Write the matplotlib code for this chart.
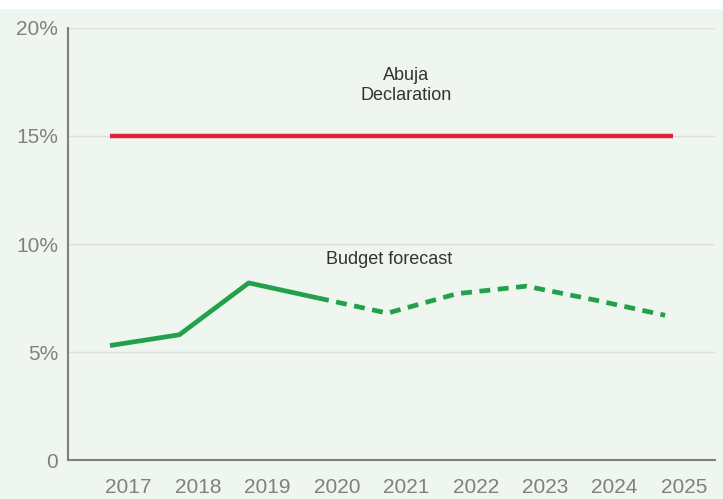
import matplotlib.pyplot as plt
from matplotlib.patches import Rectangle

years = ["2017", "2018", "2019", "2020", "2021", "2022", "2023", "2024", "2025"]
actual = [5.3, 5.8, 8.2, 7.5]
forecast = [7.5, 6.8, 7.7, 8.05, 7.4, 6.7]
abuja = [15, 15]

plt.rcParams['font.family'] = ['Liberation Sans', 'DejaVu Sans']
bg = "#eef6ef"

fig = plt.figure(figsize=(7.23, 4.99), dpi=100, facecolor=bg)
fig.patches.append(Rectangle((0, 0.984), 1, 0.016, transform=fig.transFigure,
                             color="white", zorder=0))
ax = fig.add_axes([0.094, 0.078, 0.895, 0.866])
ax.set_facecolor(bg)

x_act = list(range(len(actual)))
x_fc = list(range(len(actual) - 1, len(years)))
ax.plot([0, len(years) - 1 + 0.12], abuja, color="#e0243c", lw=3.2, solid_capstyle="butt")
ax.plot(x_act, actual, color="#22a04b", lw=3.4, solid_capstyle="butt")
ax.plot(x_fc, forecast, color="#22a04b", lw=3.4, dashes=(2.3, 1.6), dash_capstyle="butt")

ax.text(4.27, 17.34, "Abuja\nDeclaration", ha="center", va="center", fontsize=13,
        color="#333333", linespacing=1.2)
ax.text(4.02, 9.26, "Budget forecast", ha="center", va="center",
        fontsize=13, color="#333333")

ax.set_xlim(-0.605, 8.72)
ax.set_ylim(0, 20)
ax.set_yticks([0, 5, 10, 15, 20])
ax.set_yticklabels(["0", "5%", "10%", "15%", "20%"])
ax.set_xticks([i + 0.27 for i in range(len(years))])
ax.set_xticklabels(years)
ax.tick_params(length=0, labelsize=15, labelcolor="#808080")
ax.tick_params(axis="x", pad=13)
ax.tick_params(axis="y", pad=7)
ax.grid(axis="y", color="#dddddd", lw=1)
ax.set_axisbelow(True)
for s in ["top", "right"]:
    ax.spines[s].set_visible(False)
for s in ["left", "bottom"]:
    ax.spines[s].set_color("#808080")
    ax.spines[s].set_linewidth(1.5)

fig.savefig("out.png", dpi=100, facecolor=bg)
